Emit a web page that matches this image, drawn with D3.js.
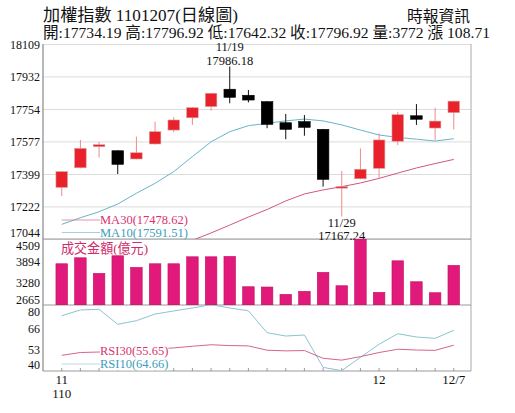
<!DOCTYPE html>
<html>
<head>
<meta charset="utf-8">
<script src="https://cdn.jsdelivr.net/npm/d3@7"></script>
<style>
  body { margin: 0; background: #fff; }
  text { font-family: "Liberation Serif", "Noto Sans CJK TC", serif; }
</style>
</head>
<body>
<div id="chart"></div>
<script>
// trading days 11/8 .. 12/7
const dates = ['11/8','11/9','11/10','11/11','11/12','11/15','11/16','11/17','11/18','11/19',
  '11/22','11/23','11/24','11/25','11/26','11/29','11/30','12/1','12/2','12/3','12/6','12/7'];
const open  = [17326,17433,17548,17526,17481,17563,17639,17706,17767,17862,17829,17794,17679,17685,17643,17323,17373,17430,17578,17717,17650,17734.19];
const high  = [17414,17585,17575,17528,17603,17685,17709,17765,17842,17986.18,17858,17796,17727,17721,17645,17415,17539,17621,17739,17781,17761,17796.92];
const low   = [17279,17430,17490,17399,17479,17560,17627,17667,17745,17785,17790,17649,17589,17608,17330,17167.24,17370,17375,17557,17667,17585,17642.32];
const close = [17412,17539,17559,17452,17515,17630,17694,17761,17840,17818,17803,17670,17643,17654,17370,17330,17425,17585,17723,17698,17688,17796.92];
const ma10  = [17124,17160,17193,17235,17294,17348,17412,17494,17575,17630,17663,17676,17689,17699,17689,17667,17639,17612,17599,17589,17579,17591.51];
const ma30  = [null,null,null,null,null,null,17000,17037,17077,17120,17164,17205,17252,17290,17312,17330,17350,17375,17404,17432,17456,17478.62];
const volume = [3817,3984,3549,4040,3716,3817,3817,4012,4012,4023,3175,3167,2963,3047,3577,3203,4509,3019,3900,3315,3008,3772];
const rsi10 = [73.5,77,77.4,68.3,70.5,74.5,76.4,78.2,80.2,78.2,76.5,63.2,61.2,61.8,42.2,40.2,48.3,56.2,62.6,60.6,59.8,64.66];
const rsi30 = [49.5,51.2,51.5,52.2,52.6,53.3,54,55,55.9,55.4,55.2,52.6,52.2,52.4,47.7,46.6,48.7,51.2,53.2,52.7,52.5,55.65];

const priceTicks = [18109, 17932, 17754, 17577, 17399, 17222, 17044];
const volTicks = [4509, 3894, 3280, 2665];
const rsiTicks = [80, 66, 53, 40];
const monthTicks = [['11/8', '11', '110'], ['12/1', '12', ''], ['12/7', '12/7', '']];

const W = 515, H = 413;
const LEFT = 43, RIGHT = 471;
const P = { top: 44, bottom: 239 };
const V = { top: 239, bottom: 305 };
const R = { top: 305, bottom: 371 };

const RED = '#e8212b', RED_WICK = '#f08a8a';
const PINK = '#d8336e', TEAL = '#3b9dbd';

const svg = d3.select('#chart').append('svg')
  .attr('width', W).attr('height', H);

const x = d3.scaleBand().domain(dates)
  .range([52.4, 463.1]).paddingInner(0.38).paddingOuter(0.19);
const cx = d => x(d) + x.bandwidth() / 2;

const yP = d3.scaleLinear().domain([17044, 18109]).range([P.bottom, P.top]);
const yV = d3.scaleLinear().domain([2665, 4509]).range([V.bottom, V.top]);
const yR = d3.scaleLinear().domain([40, 80]).range([R.bottom, R.top]);

// clip paths
const defs = svg.append('defs');
[['clipP', P], ['clipV', V], ['clipR', R]].forEach(([id, p]) => {
  defs.append('clipPath').attr('id', id).append('rect')
    .attr('x', LEFT).attr('y', p.top).attr('width', RIGHT - LEFT).attr('height', p.bottom - p.top);
});

// header
svg.append('text').attr('x', 43).attr('y', 21)
  .attr('font-size', 17).attr('textLength', 195).attr('lengthAdjust', 'spacingAndGlyphs')
  .attr('fill', '#111').text('加權指數 1101207(日線圖)');
svg.append('text').attr('x', 407).attr('y', 22)
  .attr('font-size', 16).attr('textLength', 63).attr('lengthAdjust', 'spacingAndGlyphs')
  .attr('fill', '#111').text('時報資訊');
svg.append('text').attr('x', 43).attr('y', 38)
  .attr('font-size', 15.5).attr('textLength', 447).attr('lengthAdjust', 'spacingAndGlyphs')
  .attr('fill', '#111').text('開:17734.19 高:17796.92 低:17642.32 收:17796.92 量:3772 漲 108.71');

// axis helper
function leftAxis(scale, ticks, grid, shift) {
  const g = svg.append('g').attr('transform', `translate(${LEFT},0)`)
    .call(d3.axisLeft(scale).tickValues(ticks).tickFormat(d3.format('d'))
      .tickSize(grid ? -(RIGHT - LEFT) : 0).tickPadding(3));
  g.select('.domain').remove();
  g.selectAll('.tick line').attr('stroke', '#dcdcdc');
  g.selectAll('.tick text')
    .attr('font-size', 12).attr('fill', '#111')
    .attr('font-family', 'Liberation Serif')
    .attr('dy', d => (shift[d] || 0) + 4);
  return g;
}
leftAxis(yP, priceTicks, true, { 17044: -6.5 });
leftAxis(yV, volTicks, false, { 4509: 6, 2665: -6 });
leftAxis(yR, rsiTicks, false, { 80: 6.5, 40: -6.5 });

// frame
const frame = svg.append('g').attr('fill', 'none');
frame.append('line').attr('x1', LEFT).attr('x2', LEFT).attr('y1', P.top).attr('y2', R.bottom)
  .attr('stroke', '#888').attr('stroke-width', 1.2);
frame.append('line').attr('x1', RIGHT).attr('x2', RIGHT).attr('y1', P.top).attr('y2', R.bottom)
  .attr('stroke', '#aaa');
[V.top, V.bottom].forEach(yy => {
  frame.append('line').attr('x1', LEFT).attr('x2', RIGHT).attr('y1', yy).attr('y2', yy)
    .attr('stroke', '#999').attr('stroke-width', 1.2);
});
frame.append('line').attr('x1', LEFT).attr('x2', RIGHT).attr('y1', R.bottom).attr('y2', R.bottom)
  .attr('stroke', '#999');

// x axis ticks along RSI bottom
const xAxis = svg.append('g').attr('transform', `translate(0,${R.bottom})`)
  .call(d3.axisTop(x).tickSize(3).tickFormat(''));
xAxis.select('.domain').remove();
xAxis.selectAll('.tick line').attr('stroke', '#999');

monthTicks.forEach(([d, a, b]) => {
  svg.append('text').attr('x', cx(d)).attr('y', 384).attr('text-anchor', 'middle')
    .attr('font-size', 13).attr('fill', '#111').text(a);
  if (b) svg.append('text').attr('x', cx(d)).attr('y', 398).attr('text-anchor', 'middle')
    .attr('font-size', 13).attr('fill', '#111').text(b);
});

// price panel
const pg = svg.append('g').attr('clip-path', 'url(#clipP)');
const line = (scale, arr) => d3.line()
  .defined(d => d != null)
  .x((d, i) => cx(dates[i]))
  .y(d => scale(d))(arr);

pg.append('path').attr('d', line(yP, ma10)).attr('fill', 'none').attr('stroke', '#6ab4c8').attr('stroke-width', 1);
pg.append('path').attr('d', line(yP, ma30)).attr('fill', 'none').attr('stroke', '#d2587e').attr('stroke-width', 1);

const candles = pg.selectAll('g.candle').data(dates).enter().append('g');
candles.append('line')
  .attr('x1', d => cx(d)).attr('x2', d => cx(d))
  .attr('y1', (d, i) => yP(high[i])).attr('y2', (d, i) => yP(low[i]))
  .attr('stroke', (d, i) => close[i] >= open[i] ? RED_WICK : '#111').attr('stroke-width', 1);
candles.append('rect')
  .attr('x', d => x(d)).attr('width', x.bandwidth())
  .attr('y', (d, i) => yP(Math.max(open[i], close[i])))
  .attr('height', (d, i) => Math.max(1.5, Math.abs(yP(open[i]) - yP(close[i]))))
  .attr('fill', (d, i) => close[i] >= open[i] ? RED : '#000')
  .attr('stroke', (d, i) => close[i] >= open[i] ? '#d8a0a0' : '#000').attr('stroke-width', 0.6);

// high / low annotations
const hiI = high.indexOf(d3.max(high));
const loI = low.indexOf(d3.min(low));
svg.append('text').attr('x', cx(dates[hiI])).attr('y', 51).attr('text-anchor', 'middle')
  .attr('font-size', 12.5).attr('fill', '#111').text(dates[hiI]);
svg.append('text').attr('x', cx(dates[hiI])).attr('y', 64.5).attr('text-anchor', 'middle')
  .attr('font-size', 12.5).attr('fill', '#111').text(high[hiI].toFixed(2));
svg.append('text').attr('x', cx(dates[loI])).attr('y', 227).attr('text-anchor', 'middle')
  .attr('font-size', 12.5).attr('fill', '#111').text(dates[loI]);
svg.append('text').attr('x', cx(dates[loI])).attr('y', 239.5).attr('text-anchor', 'middle')
  .attr('font-size', 12.5).attr('fill', '#111').text(low[loI].toFixed(2));

// legends
function legend(yy, color, lineColor, label) {
  svg.append('line').attr('x1', cx(dates[0])).attr('x2', 100).attr('y1', yy).attr('y2', yy)
    .attr('stroke', lineColor).attr('stroke-width', 0.8);
  svg.append('text').attr('x', 100).attr('y', yy + 4.3).attr('font-size', 12.5)
    .attr('fill', color).text(label);
}
legend(220, PINK, '#d87a98', `MA30(${ma30[ma30.length - 1]})`);
legend(232.5, TEAL, '#8cc4d2', `MA10(${ma10[ma10.length - 1]})`);

// volume panel
svg.append('g').attr('clip-path', 'url(#clipV)')
  .selectAll('rect').data(volume).enter().append('rect')
  .attr('x', (d, i) => x(dates[i])).attr('width', x.bandwidth())
  .attr('y', d => yV(d)).attr('height', d => V.bottom - yV(d))
  .attr('fill', '#e0197a').attr('stroke', '#c4125f').attr('stroke-width', 0.6);
svg.append('text').attr('x', 61).attr('y', 253).attr('font-size', 13.5)
  .attr('textLength', 87).attr('lengthAdjust', 'spacingAndGlyphs')
  .attr('fill', '#d02a6a').text('成交金額(億元)');

// RSI panel
const rg = svg.append('g').attr('clip-path', 'url(#clipR)');
rg.append('path').attr('d', line(yR, rsi10)).attr('fill', 'none').attr('stroke', '#8cc4cf').attr('stroke-width', 1);
rg.append('path').attr('d', line(yR, rsi30)).attr('fill', 'none').attr('stroke', '#d4668a').attr('stroke-width', 1);

function rsiLegend(yy, color, label) {
  const t = svg.append('text').attr('x', 100).attr('y', yy + 4.3).attr('font-size', 12.5)
    .attr('fill', color).text(label);
  const b = t.node().getBBox();
  svg.insert('rect', () => t.node()).attr('x', b.x).attr('y', b.y + 2).attr('width', b.width)
    .attr('height', b.height - 3).attr('fill', '#fff');
}
svg.append('line').attr('x1', cx(dates[0])).attr('x2', 100).attr('y1', 364).attr('y2', 364)
  .attr('stroke', '#a8d0d8').attr('stroke-width', 0.8);
rsiLegend(351, PINK, `RSI30(${rsi30[rsi30.length - 1]})`);
rsiLegend(364, TEAL, `RSI10(${rsi10[rsi10.length - 1]})`);
</script>
</body>
</html>
